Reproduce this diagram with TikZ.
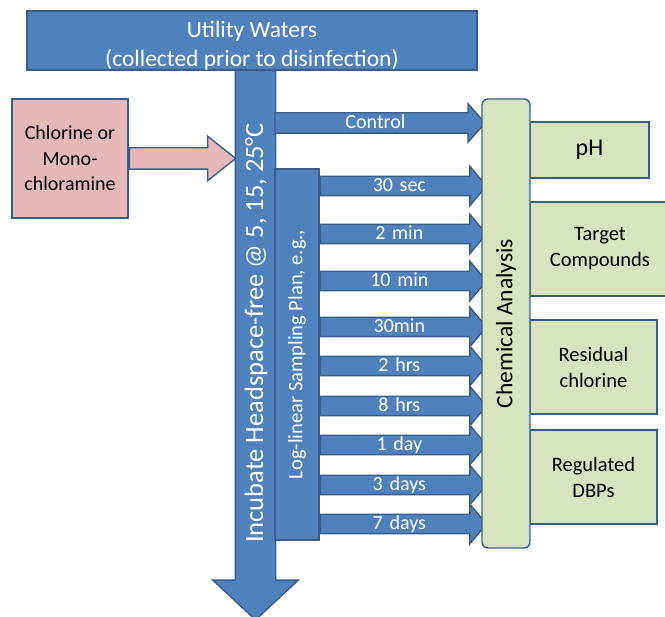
\documentclass[tikz,border=0pt]{standalone}
\usepackage{fontspec}
\setmainfont{Carlito}
\usepackage{tikz}
\usetikzlibrary{shapes.arrows}
\definecolor{boxblue}{HTML}{4F81BD}
\definecolor{edgeblue}{HTML}{385D8A}
\definecolor{dosepink}{HTML}{E6B9B8}
\definecolor{labgreen}{HTML}{D7E4BD}

\begin{document}
\begin{tikzpicture}[x=1pt, y=1pt, line width=1.4pt,
    box/.style={draw=edgeblue, fill=boxblue, text=white, inner sep=0pt},
    greenbox/.style={draw=edgeblue, fill=labgreen, align=center, inner sep=0pt, font=\fontsize{20.5}{26}\selectfont},
    flow/.style={single arrow, draw=edgeblue, fill=boxblue, text=white, inner xsep=0pt,
      single arrow head indent=0pt, font=\fontsize{20}{20}\selectfont},
    sample/.style={flow, anchor=tail, text width=156.5pt, align=center, text height=14.5pt, text depth=2.5pt,
      inner ysep=0.5pt, single arrow head extend=10pt, single arrow tip angle=100}]
    \useasboundingbox (0,0) rectangle (665,-617);
    \node[flow, rotate=90, shape border rotate=180, anchor=tail, text height=20pt, text depth=5pt, inner ysep=7pt,
      single arrow head extend=22.5pt, single arrow tip angle=94, font=\fontsize{26.5}{26.5}\selectfont]
      (incubate) at (255.5,-60) {\makebox[539pt]{Incubate Headspace-free @ 5, 15, 25°C\hspace{4pt}}};
    \node[box, minimum width=450pt, minimum height=57pt, align=center, font=\fontsize{23.5}{29}\selectfont]
      (waters) at (252,-40.5) {\rule{0pt}{26pt}Utility Waters\\(collected prior to disinfection)};
    \node[draw=edgeblue, fill=dosepink, minimum width=116pt, minimum height=119pt, align=center,
      font=\fontsize{20}{25.5}\selectfont] (dose) at (70,-158.5) {Chlorine or\\Mono-\\chloramine};
    \node[flow, fill=dosepink, anchor=tail, text width=91.4pt, text height=0pt, text depth=0pt, inner ysep=10pt,
      single arrow head extend=11.5pt, single arrow tip angle=77] (dosing) at (dose.east) {};
    \node[box, rotate=90, minimum width=371pt, minimum height=44pt, font=\fontsize{20.5}{20.5}\selectfont]
      (plan) at (297,-354.5) {Log-linear Sampling Plan, e.g.,};
    \node[flow, anchor=tail, text width=199.6pt, align=center, text height=15pt, text depth=3pt, inner ysep=0.5pt,
      single arrow head extend=9pt, single arrow tip angle=97] (control) at (plan.north |- 0,-123) {Control};
    \foreach \y/\t [count=\i] in {186/30 sec, 234/2 min, 281/10 min, 327/30min, 366/2 hrs,
        406/8 hrs, 445/1 day, 485/3 days, 524/7 days}
      \node[sample] (time\i) at (plan.south |- 0,-\y) {\t};
    \node[greenbox, minimum width=119pt, minimum height=56pt, font=\fontsize{24}{24}\selectfont] (ph) at (589.5,-150) {pH};
    \node[greenbox, minimum width=140pt, minimum height=94pt] (target) at (600,-249) {Target\\Compounds};
    \node[greenbox, minimum width=127pt, minimum height=94pt] (residual) at (593.5,-367) {Residual\\chlorine};
    \node[greenbox, minimum width=127pt, minimum height=94pt] (dbps) at (593.5,-477) {Regulated\\DBPs};
    \node[draw=edgeblue, fill=labgreen, rounded corners=6pt, rotate=90, minimum width=449pt, minimum height=48pt,
      inner sep=0pt, font=\fontsize{23.5}{23.5}\selectfont] (chem) at (506,-323.5) {Chemical Analysis};
\end{tikzpicture}
\end{document}
